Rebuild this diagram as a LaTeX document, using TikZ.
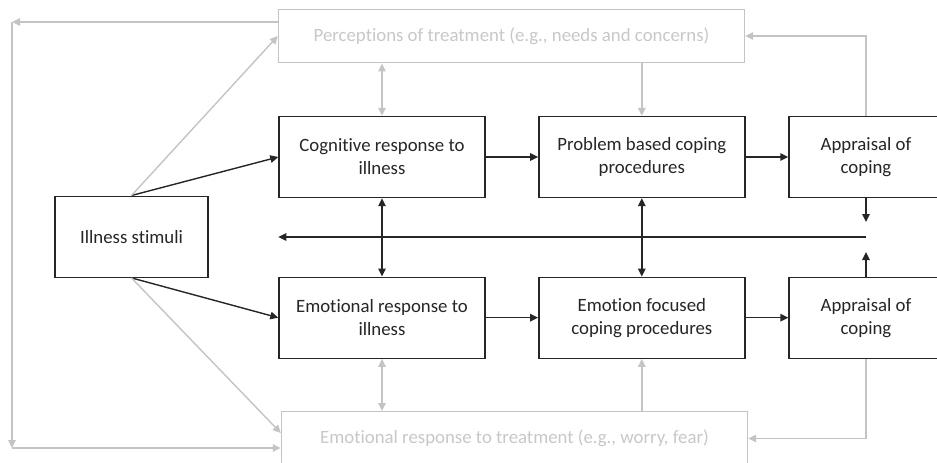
\documentclass[tikz,border=0pt]{standalone}
\usepackage{fontspec}
\setmainfont{Carlito}[Ligatures=NoCommon]
\usetikzlibrary{arrows.meta, positioning, calc}
\definecolor{cLine}{RGB}{38,38,38}
\definecolor{cGrey}{RGB}{196,196,196}
\definecolor{cGreyText}{RGB}{200,200,200}
\tikzset{
	blk/.style  ={rectangle, draw=cLine, line width=1.4pt, minimum width=206pt, minimum height=81pt, align=center, inner sep=0pt, text=cLine},
	narrow/.style={blk, minimum width=154pt},
	gblk/.style ={rectangle, draw=cGrey, line width=1.4pt, minimum width=466pt, minimum height=53.5pt, align=center, inner sep=0pt, text=cGreyText},
	sig/.style  ={-{Triangle[length=8pt, width=7.5pt]}, line width=1.4pt, cLine},
	dsig/.style ={{Triangle[length=8pt, width=7.5pt]}-{Triangle[length=8pt, width=7.5pt]}, line width=1.4pt, cLine},
	gsig/.style ={-{Triangle[length=8pt, width=7.5pt]}, line width=1.4pt, cGrey},
	gdsig/.style={{Triangle[length=8pt, width=7.5pt]}-{Triangle[length=8pt, width=7.5pt]}, line width=1.4pt, cGrey},
}
\begin{document}
\begin{tikzpicture}[x=1pt, y=-1pt, font=\fontsize{18.8pt}{23pt}\selectfont]
	\clip (0,0) rectangle (937,463);
	\fill[white] (0,0) rectangle (937,463);
	% grey boxes
	\node[gblk] (perc) at (511.5,36) {Perceptions of treatment (e.g., needs and concerns)};
	\node[gblk] (emt) at (514.5,438.5) {Emotional response to treatment (e.g., worry, fear)};
	% main boxes
	\node[blk, minimum width=153pt] (ill) at (131.5,236.7) {Illness stimuli};
	\node[blk] (cog) at (382,157) {Cognitive response to\\illness};
	\node[blk] (prob) at (641.8,157) {Problem based coping\\procedures};
	\node[narrow] (apt) at (866,157) {Appraisal of\\coping};
	\node[blk] (emo) at (382,317.7) {Emotional response to\\illness};
	\node[blk] (emf) at (641.8,317.7) {Emotion focused\\coping procedures};
	\node[narrow] (apb) at (866,317.7) {Appraisal of\\coping};
	% feedback points
	\coordinate (fbT) at (866,222);
	\coordinate (fbB) at (866,252);
	\coordinate (fbR) at (866,237);
	\coordinate (lt) at (12,22);
	\coordinate (lb) at (12,448);
	% black connectors
	\draw[sig] (ill.north) -- (cog.west);
	\draw[sig] (ill.south) -- (emo.west);
	\draw[sig] (cog) -- (prob);
	\draw[sig] (prob) -- (apt);
	\draw[sig] (emo) -- (emf);
	\draw[sig] (emf) -- (apb);
	\draw[dsig] (cog) -- (emo);
	\draw[dsig] (prob) -- (emf);
	\draw[sig] (apt.south) -- (fbT);
	\draw[sig] (apb.north) -- (fbB);
	\draw[sig] (fbR) -- (cog.west |- fbR);
	% grey connectors
	\draw[gsig] (ill.north) -- (perc.west);
	\draw[gsig] (ill.south) -- ($(emt.west)+(0,-5.5)$);
	\draw[gsig] (perc.west |- lt) -- (lt);
	\draw[gsig] (lt) -- (lb);
	\draw[gsig] (lb) -- (emt.west |- lb);
	\draw[gsig] (apt.north) |- (perc.east);
	\draw[gsig] (apb.south) |- (emt.east);
	\draw[gdsig] (perc.south -| cog) -- (cog.north);
	\draw[gsig] (perc.south -| prob) -- (prob.north);
	\draw[gdsig] (emo.south) -- (emt.north -| emo);
	\draw[gsig] (emt.north -| emf) -- (emf.south);
\end{tikzpicture}
\end{document}
